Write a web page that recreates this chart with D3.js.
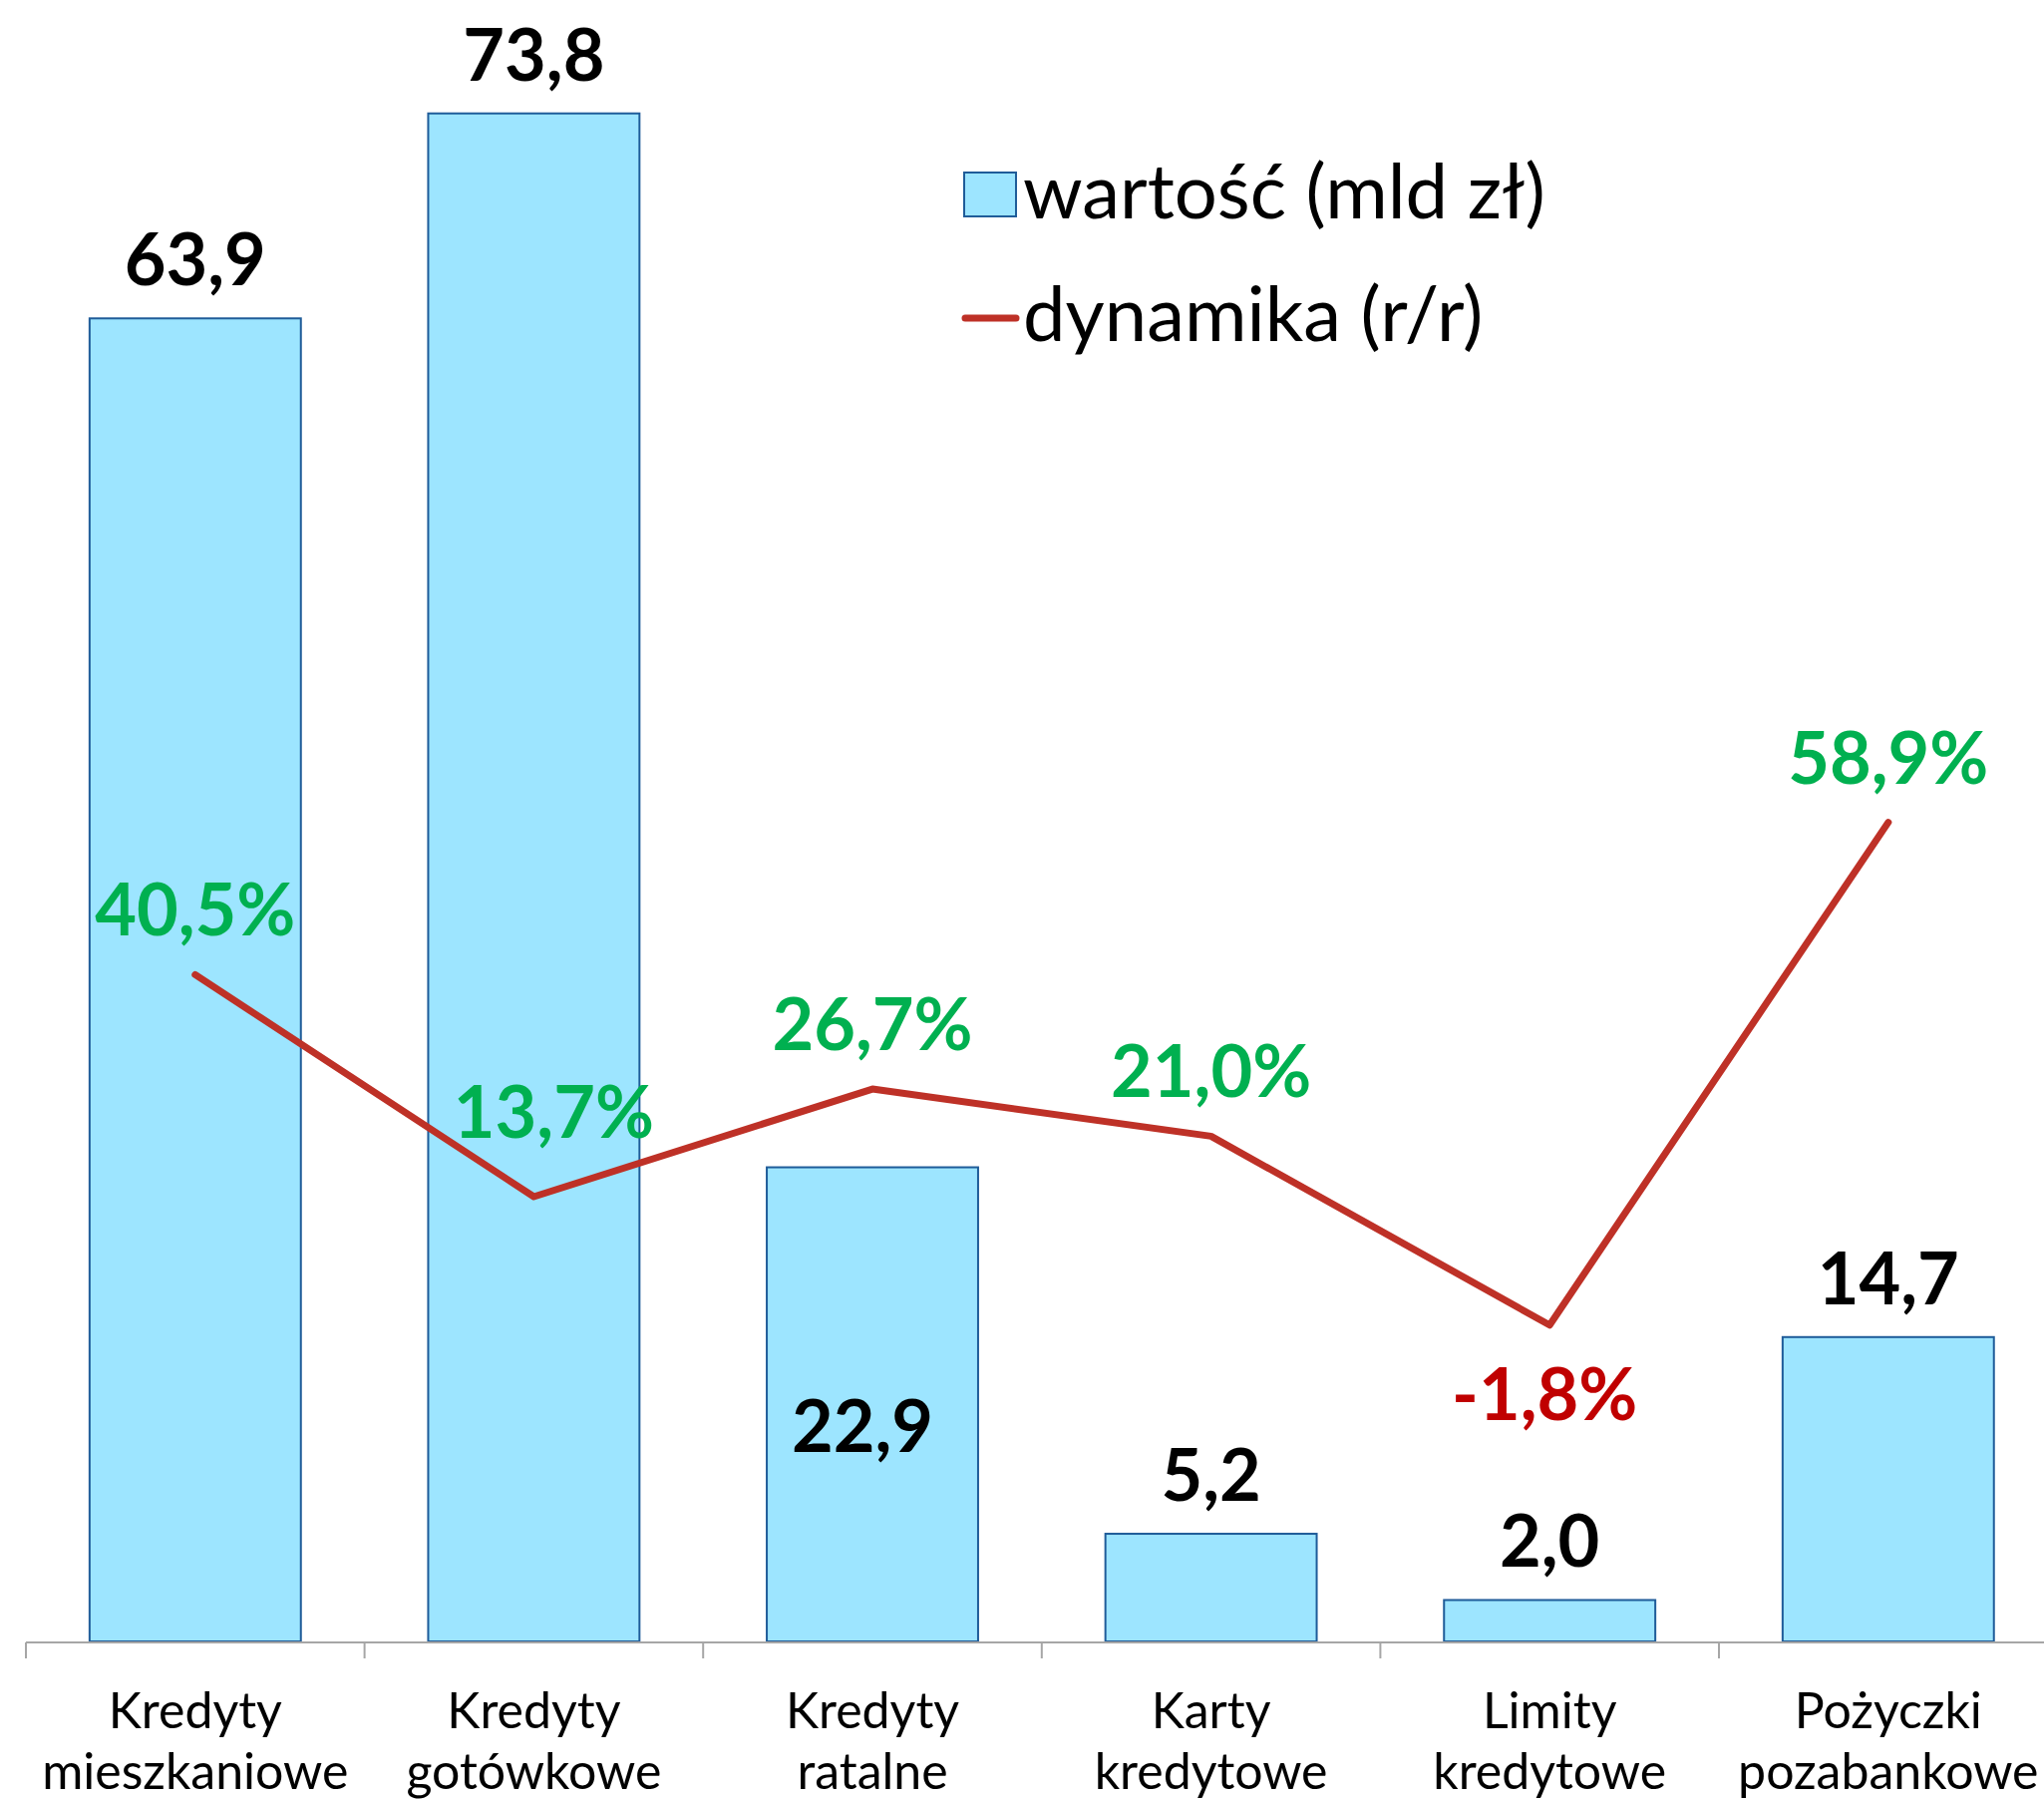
<!DOCTYPE html>
<html>
<head>
<meta charset="utf-8">
<script src="https://cdn.jsdelivr.net/npm/d3@7"></script>
<style>
    body { margin: 0; background: #fff; }
    svg { display: block; }
</style>
</head>
<body>
<div id="chart"></div>
<script>
// Data
const categories = [
    ["Kredyty", "mieszkaniowe"],
    ["Kredyty", "gotówkowe"],
    ["Kredyty", "ratalne"],
    ["Karty", "kredytowe"],
    ["Limity", "kredytowe"],
    ["Pożyczki", "pozabankowe"]
];
const values = [63.9, 73.8, 22.9, 5.2, 2.0, 14.7];       // wartość (mld zł)
const dynamics = [40.5, 13.7, 26.7, 21.0, -1.8, 58.9];   // dynamika (r/r) %
const legendLabels = ["wartość (mld zł)", "dynamika (r/r)"];

// label tweaks (manual placement as in the original)
const valueLabelInside = [false, false, true, false, false, false];
const pctLabelShift = [[0, -39], [20, -59], [0, -39], [0, -39], [-5, 95], [0, -39]];

const width = 2050, height = 1805;
const font = "Lato, 'Open Sans', sans-serif";
const fmt = v => v.toFixed(1).replace(".", ",");

const svg = d3.select("#chart").append("svg")
    .attr("width", width)
    .attr("height", height);

// Scales
const x = d3.scaleBand()
    .domain(d3.range(categories.length))
    .range([26, 26 + 6 * 339.6])
    .paddingInner(0.376)
    .paddingOuter(0.188);

const y = d3.scaleLinear().domain([0, 80]).range([1646, -15]);
const y2 = d3.scaleLinear().domain([-40, 160]).range([1646, -15]);

const step = x.step();
const cx = i => x(i) + x.bandwidth() / 2;

// Bars
svg.append("g")
    .selectAll("rect")
    .data(values)
    .enter().append("rect")
    .attr("x", (d, i) => x(i))
    .attr("y", d => y(d))
    .attr("width", x.bandwidth())
    .attr("height", d => y(0) - y(d))
    .attr("fill", "#9de5ff")
    .attr("stroke", "#1f5c99")
    .attr("stroke-width", 2);

// Category axis
const axisY = 1647;
const axis = svg.append("g").attr("class", "axis");
axis.append("line")
    .attr("x1", x.range()[0]).attr("x2", x.range()[1])
    .attr("y1", axisY).attr("y2", axisY)
    .attr("stroke", "#a6a6a6").attr("stroke-width", 2);

axis.selectAll("line.tick")
    .data(d3.range(categories.length + 1))
    .enter().append("line")
    .attr("class", "tick")
    .attr("x1", i => x.range()[0] + i * step)
    .attr("x2", i => x.range()[0] + i * step)
    .attr("y1", axisY).attr("y2", axisY + 16)
    .attr("stroke", "#a6a6a6").attr("stroke-width", 2);

axis.selectAll("text")
    .data(categories)
    .enter().append("text")
    .attr("text-anchor", "middle")
    .attr("font-family", font)
    .attr("font-size", "50px")
    .attr("fill", "#000")
    .each(function(d, i) {
        const t = d3.select(this);
        d.forEach((line, k) => {
            t.append("tspan")
                .attr("x", cx(i))
                .attr("y", 1733 + k * 61)
                .text(line);
        });
    });

// Value labels
svg.append("g")
    .selectAll("text")
    .data(values)
    .enter().append("text")
    .attr("x", (d, i) => cx(i) + (valueLabelInside[i] ? -10 : 0))
    .attr("y", (d, i) => valueLabelInside[i] ? (y(d) + y(0)) / 2 + 48 : y(d) - 33)
    .attr("text-anchor", "middle")
    .attr("font-family", font)
    .attr("font-weight", "bold")
    .attr("font-size", "72px")
    .attr("fill", "#000")
    .text(d => fmt(d));

// Dynamics line
const line = d3.line()
    .x((d, i) => cx(i))
    .y(d => y2(d));

svg.append("path")
    .datum(dynamics)
    .attr("d", line)
    .attr("fill", "none")
    .attr("stroke", "#be3127")
    .attr("stroke-width", 7)
    .attr("stroke-linejoin", "round")
    .attr("stroke-linecap", "round");

// Percent labels
svg.append("g")
    .selectAll("text")
    .data(dynamics)
    .enter().append("text")
    .attr("x", (d, i) => cx(i) + pctLabelShift[i][0])
    .attr("y", (d, i) => y2(d) + pctLabelShift[i][1])
    .attr("text-anchor", "middle")
    .attr("font-family", font)
    .attr("font-weight", "bold")
    .attr("font-size", "72px")
    .attr("fill", d => d < 0 ? "#c00000" : "#00b050")
    .text(d => fmt(d) + "%");

// Legend
const legend = svg.append("g").attr("class", "legend");
legend.append("rect")
    .attr("x", 967).attr("y", 173)
    .attr("width", 52).attr("height", 44)
    .attr("fill", "#9de5ff")
    .attr("stroke", "#1f5c99")
    .attr("stroke-width", 2);
legend.append("line")
    .attr("x1", 968).attr("x2", 1019)
    .attr("y1", 319).attr("y2", 319)
    .attr("stroke", "#be3127")
    .attr("stroke-width", 7)
    .attr("stroke-linecap", "round");
legend.selectAll("text")
    .data(legendLabels)
    .enter().append("text")
    .attr("x", 1026)
    .attr("y", (d, i) => 219 + i * 123)
    .attr("font-family", font)
    .attr("font-size", "76px")
    .attr("fill", "#000")
    .text(d => d);
</script>
</body>
</html>
